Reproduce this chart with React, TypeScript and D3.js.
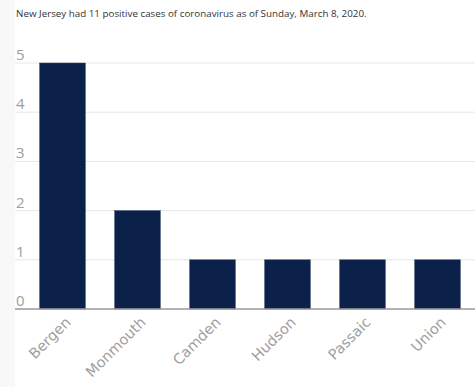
import * as d3 from "d3";
import { useEffect, useRef } from "react";

const counties = ["Bergen", "Monmouth", "Camden", "Hudson", "Passaic", "Union"];
const cases = [5, 2, 1, 1, 1, 1];
const yTicks = [0, 1, 2, 3, 4, 5];
const title = "New Jersey had 11 positive cases of coronavirus as of Sunday, March 8, 2020.";

export default function App() {
  const ref = useRef<SVGSVGElement>(null);
  const width = 475;
  const height = 387;

  useEffect(() => {
    const svg = d3.select(ref.current);
    svg.selectAll("*").remove();

    // gray strip on the left
    svg.append("rect").attr("x", 0).attr("y", 0).attr("width", 15).attr("height", height).attr("fill", "#f8f8f8");
    svg.append("rect").attr("x", 15).attr("y", 0).attr("width", width - 15).attr("height", height).attr("fill", "#fff");

    svg.append("text")
      .attr("x", 16).attr("y", 17)
      .style("font", "9.8px 'Open Sans', sans-serif")
      .attr("fill", "#333")
      .text(title);

    const x = d3.scaleBand().domain(counties).range([25, 475]).paddingInner(0.39).paddingOuter(0.195);
    const y = d3.scaleLinear().domain([0, 5]).range([309, 63]);

    // grid
    svg.selectAll(".grid").data(yTicks.filter(d => d > 0)).enter().append("line")
      .attr("class", "grid")
      .attr("x1", 15).attr("x2", width)
      .attr("y1", d => y(d)).attr("y2", d => y(d))
      .attr("stroke", "#e6e6e6").attr("stroke-width", 1);

    svg.selectAll(".ylab").data(yTicks).enter().append("text")
      .attr("class", "ylab")
      .attr("x", 16).attr("y", d => y(d) - 3)
      .style("font", "15px 'Open Sans', sans-serif")
      .attr("fill", "#9e9e9e")
      .text(d => d);

    svg.selectAll(".bar").data(counties).enter().append("rect")
      .attr("class", "bar")
      .attr("x", d => x(d)!)
      .attr("width", x.bandwidth())
      .attr("y", (d, i) => y(cases[i]))
      .attr("height", (d, i) => y(0) - y(cases[i]))
      .attr("fill", "#0b2149")
      .attr("stroke", "#34486b").attr("stroke-width", 0.5);

    svg.append("line")
      .attr("x1", 15).attr("x2", width)
      .attr("y1", y(0)).attr("y2", y(0))
      .attr("stroke", "#999").attr("stroke-width", 1.5);

    svg.selectAll(".xlab").data(counties).enter().append("text")
      .attr("class", "xlab")
      .attr("transform", d => "translate(" + (x(d)! + x.bandwidth() / 2 + 2) + ",316)rotate(-45)")
      .attr("text-anchor", "end")
      .attr("dy", "0.7em")
      .style("font", "14.5px 'DejaVu Sans', sans-serif")
      .attr("fill", "#9e9e9e")
      .text(d => d);
  }, []);

  return (
    <svg ref={ref} width={width} height={height} style={{ position: "absolute", left: 0, top: 0 }} />
  );
}
